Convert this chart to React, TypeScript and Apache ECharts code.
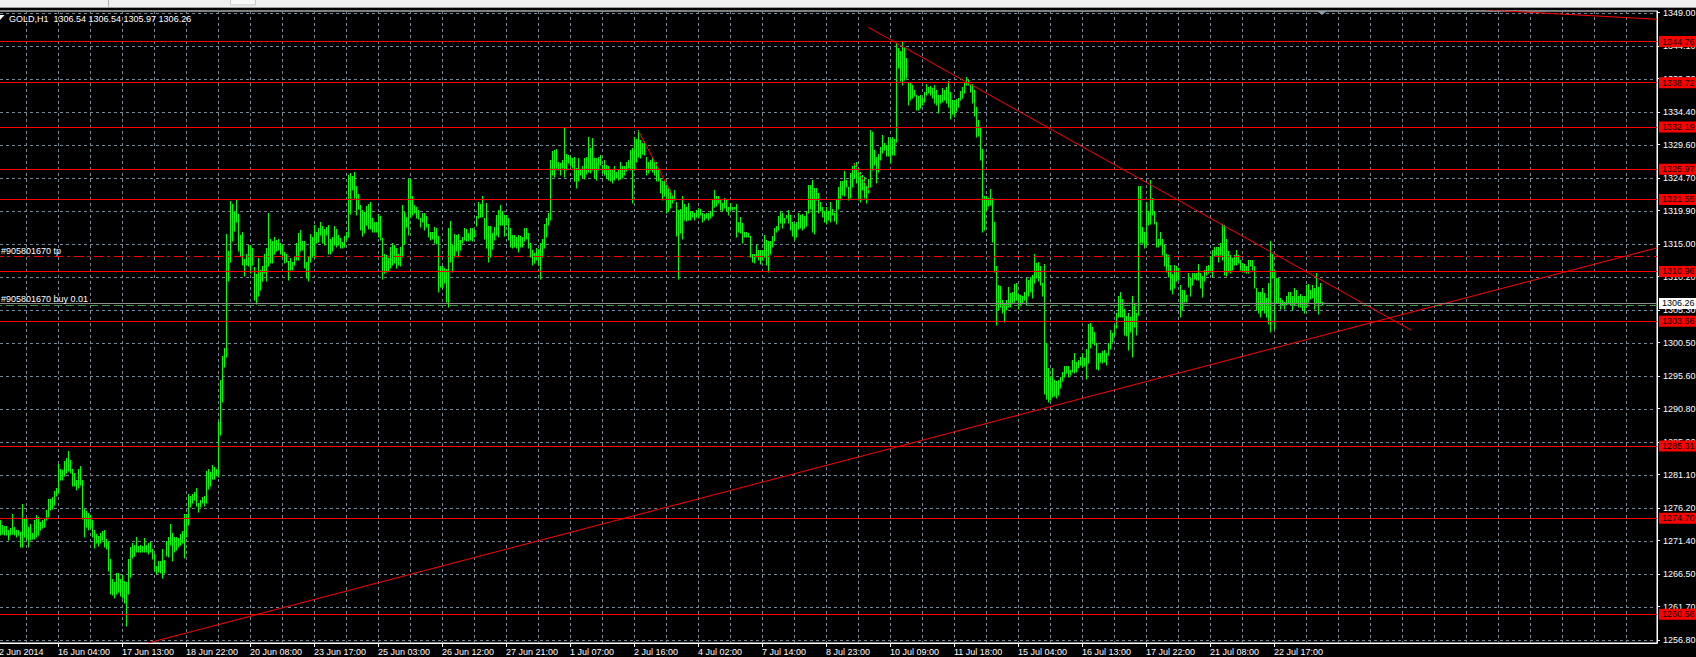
import { useEffect, useRef } from 'react';
import * as echarts from 'echarts';

// GOLD H1, one bar per hour, index 0 = first visible bar
const chartTitle = 'GOLD,H1  1306.54 1306.54 1305.97 1306.26';

const timeLabels = [
  '12 Jun 2014', '16 Jun 04:00', '17 Jun 13:00', '18 Jun 22:00', '20 Jun 08:00', '23 Jun 17:00',
  '25 Jun 03:00', '26 Jun 12:00', '27 Jun 21:00', '1 Jul 07:00', '2 Jul 16:00', '4 Jul 02:00',
  '7 Jul 14:00', '8 Jul 23:00', '10 Jul 09:00', '11 Jul 18:00', '15 Jul 04:00', '16 Jul 13:00',
  '17 Jul 22:00', '21 Jul 08:00', '22 Jul 17:00',
];

const priceTicks = [
  1256.8, 1261.7, 1266.5, 1271.4, 1276.2, 1281.1, 1285.9, 1290.8, 1295.6, 1300.5,
  1305.3, 1310.2, 1315.0, 1319.9, 1324.7, 1329.6, 1334.4, 1339.3, 1344.1, 1349.0,
];

const barHigh = [
  1274.4, 1273.7, 1273.5, 1273.5, 1272.9, 1273.2, 1275.3, 1273.4, 1272.9, 1272.9,
  1272.6, 1276.8, 1274.7, 1274.7, 1273.4, 1273.9, 1272.5, 1274.4, 1275.1, 1274.8,
  1274.2, 1274.4, 1274.6, 1275.9, 1277.5, 1277.5, 1277.8, 1278.7, 1279.2, 1282.6,
  1282.0, 1281.8, 1283.1, 1283.5, 1284.5, 1283.2, 1282.0, 1281.3, 1280.3, 1282.0,
  1282.3, 1280.3, 1276.0, 1275.7, 1275.4, 1275.1, 1274.4, 1273.0, 1272.4, 1272.1,
  1272.5, 1272.8, 1272.9, 1271.6, 1271.2, 1268.7, 1265.7, 1265.3, 1266.7, 1266.6,
  1265.8, 1266.4, 1265.4, 1265.3, 1268.7, 1270.5, 1271.0, 1270.8, 1272.0, 1270.6,
  1270.7, 1270.6, 1271.8, 1270.8, 1271.0, 1271.2, 1270.1, 1269.4, 1267.7, 1268.4,
  1268.4, 1270.1, 1268.5, 1271.4, 1272.0, 1273.9, 1272.5, 1271.9, 1271.9, 1271.8,
  1272.3, 1272.8, 1275.3, 1275.3, 1278.2, 1277.9, 1278.2, 1278.5, 1279.2, 1276.9,
  1277.3, 1277.8, 1278.0, 1281.6, 1281.9, 1281.5, 1282.5, 1282.2, 1281.9, 1288.8,
  1295.0, 1298.5, 1299.7, 1316.5, 1314.0, 1321.3, 1320.9, 1319.7, 1321.6, 1319.4,
  1316.3, 1316.7, 1312.8, 1313.6, 1314.9, 1314.9, 1314.4, 1311.6, 1310.6, 1312.9,
  1311.2, 1311.8, 1313.6, 1314.4, 1319.5, 1315.8, 1315.5, 1316.0, 1315.6, 1315.8,
  1315.1, 1314.9, 1313.8, 1313.6, 1312.5, 1312.9, 1312.4, 1313.1, 1315.1, 1316.6,
  1317.1, 1315.4, 1315.5, 1312.4, 1313.1, 1316.5, 1316.0, 1317.8, 1316.8, 1317.3,
  1318.3, 1317.6, 1317.2, 1317.5, 1317.8, 1315.8, 1316.0, 1317.6, 1317.2, 1316.3,
  1315.9, 1315.3, 1316.2, 1316.8, 1325.1, 1325.4, 1325.0, 1325.6, 1323.5, 1322.4,
  1320.8, 1320.0, 1319.7, 1320.6, 1320.9, 1321.2, 1318.8, 1318.3, 1318.3, 1319.4,
  1319.1, 1315.9, 1313.5, 1313.4, 1313.0, 1314.5, 1315.1, 1314.9, 1314.4, 1313.5,
  1314.5, 1320.7, 1319.7, 1319.0, 1324.5, 1324.5, 1322.1, 1320.7, 1320.4, 1320.0,
  1318.8, 1319.5, 1319.6, 1319.1, 1318.0, 1316.8, 1316.7, 1317.5, 1317.4, 1316.2,
  1311.8, 1311.7, 1311.4, 1311.3, 1317.3, 1318.4, 1314.9, 1316.5, 1316.3, 1316.5,
  1315.6, 1316.0, 1317.3, 1317.2, 1316.6, 1317.3, 1317.4, 1317.1, 1319.1, 1321.2,
  1320.9, 1322.1, 1318.8, 1321.0, 1317.6, 1317.6, 1316.6, 1317.5, 1319.2, 1320.0,
  1320.7, 1319.9, 1319.2, 1319.3, 1318.8, 1317.3, 1316.3, 1316.3, 1316.1, 1316.3,
  1316.2, 1316.1, 1317.3, 1317.4, 1316.6, 1315.2, 1314.1, 1313.7, 1314.4, 1314.2,
  1315.1, 1315.8, 1317.9, 1318.8, 1319.5, 1327.4, 1328.7, 1328.8, 1328.9, 1327.1,
  1326.9, 1327.3, 1332.1, 1328.3, 1328.1, 1327.8, 1327.6, 1327.8, 1326.1, 1327.6,
  1325.9, 1326.4, 1327.7, 1327.8, 1330.7, 1329.1, 1330.6, 1327.6, 1327.6, 1327.8,
  1328.1, 1326.6, 1327.4, 1326.6, 1326.4, 1325.9, 1325.9, 1326.4, 1325.6, 1325.9,
  1327.0, 1326.4, 1326.4, 1327.0, 1327.4, 1328.8, 1329.1, 1330.7, 1330.5, 1331.8,
  1330.3, 1329.8, 1330.1, 1327.8, 1327.1, 1327.4, 1327.8, 1327.1, 1327.0, 1326.1,
  1324.7, 1324.2, 1324.2, 1323.7, 1323.2, 1322.9, 1322.2, 1323.0, 1321.2, 1320.0,
  1320.1, 1322.1, 1320.9, 1320.4, 1321.0, 1319.8, 1319.8, 1319.6, 1320.0, 1320.3,
  1320.1, 1319.5, 1319.4, 1319.5, 1319.5, 1319.8, 1321.5, 1322.9, 1322.0, 1322.0,
  1321.5, 1321.0, 1321.7, 1321.5, 1320.5, 1321.1, 1320.4, 1320.4, 1320.9, 1318.3,
  1319.0, 1318.1, 1316.7, 1316.7, 1316.6, 1316.2, 1313.6, 1313.5, 1314.8, 1314.1,
  1314.1, 1314.1, 1316.3, 1315.6, 1315.5, 1315.4, 1316.2, 1317.4, 1317.6, 1319.1,
  1319.8, 1319.6, 1318.8, 1319.3, 1320.0, 1319.2, 1318.3, 1317.9, 1318.2, 1319.6,
  1319.3, 1319.4, 1319.1, 1319.8, 1323.7, 1323.7, 1324.4, 1323.2, 1323.2, 1322.5,
  1321.2, 1320.5, 1319.8, 1320.5, 1319.8, 1321.2, 1320.2, 1319.5, 1321.6, 1323.4,
  1324.2, 1324.2, 1325.8, 1324.4, 1323.4, 1325.5, 1326.4, 1326.9, 1327.1, 1326.1,
  1325.6, 1325.2, 1324.9, 1323.7, 1324.5, 1331.8, 1331.5, 1328.8, 1327.8, 1328.3,
  1329.3, 1331.0, 1329.8, 1329.6, 1330.8, 1330.5, 1330.8, 1330.4, 1344.5, 1343.8,
  1343.3, 1344.9, 1343.8, 1342.4, 1338.6, 1338.6, 1338.4, 1337.6, 1336.9, 1336.8,
  1336.9, 1336.4, 1337.4, 1338.5, 1338.1, 1338.2, 1337.9, 1338.4, 1337.6, 1336.9,
  1336.9, 1337.9, 1337.7, 1338.1, 1338.9, 1337.4, 1336.2, 1336.2, 1336.3, 1336.4,
  1337.5, 1338.1, 1338.7, 1339.5, 1339.1, 1338.4, 1338.5, 1337.6, 1335.2, 1333.2,
  1332.2, 1328.9, 1322.0, 1322.0, 1321.7, 1323.1, 1321.7, 1318.3, 1311.7, 1309.0,
  1308.8, 1306.7, 1306.3, 1306.7, 1308.7, 1307.8, 1308.0, 1309.1, 1309.3, 1307.7,
  1307.5, 1307.3, 1308.0, 1310.0, 1309.7, 1310.1, 1310.4, 1313.5, 1312.2, 1312.4,
  1311.8, 1309.3, 1312.1, 1300.4, 1296.7, 1295.5, 1296.7, 1295.0, 1294.8, 1295.0,
  1295.5, 1296.2, 1297.1, 1297.0, 1297.1, 1296.5, 1298.0, 1299.0, 1297.7, 1298.0,
  1298.4, 1299.0, 1298.2, 1299.5, 1303.3, 1303.4, 1302.8, 1302.1, 1300.4, 1299.0,
  1299.0, 1299.2, 1299.4, 1299.0, 1300.4, 1302.4, 1301.9, 1303.1, 1304.8, 1307.3,
  1308.0, 1306.9, 1305.4, 1304.4, 1304.9, 1304.3, 1307.3, 1306.2, 1304.8, 1323.5,
  1323.5, 1317.5, 1316.8, 1321.2, 1319.8, 1324.4, 1321.7, 1319.8, 1318.3, 1315.7,
  1316.8, 1315.8, 1314.9, 1313.6, 1313.4, 1311.9, 1310.6, 1311.9, 1311.7, 1311.4,
  1309.0, 1308.2, 1308.2, 1307.5, 1310.7, 1310.0, 1310.7, 1310.8, 1310.7, 1312.0,
  1310.8, 1310.3, 1311.2, 1311.8, 1311.9, 1313.2, 1314.1, 1314.5, 1314.5, 1314.6,
  1315.1, 1318.0, 1317.8, 1315.7, 1314.0, 1313.4, 1312.9, 1313.4, 1314.1, 1313.4,
  1312.7, 1312.2, 1312.0, 1311.8, 1312.7, 1312.6, 1312.7, 1311.7, 1308.6, 1308.0,
  1308.0, 1308.5, 1307.8, 1307.0, 1309.2, 1315.5, 1313.6, 1311.2, 1310.0, 1310.0,
  1307.0, 1306.8, 1306.5, 1307.3, 1308.0, 1307.9, 1307.3, 1308.6, 1308.2, 1307.3,
  1307.6, 1307.3, 1307.3, 1309.0, 1309.1, 1308.2, 1309.0, 1308.5, 1310.7, 1308.7,
  1309.2, 1306.54,
];

const barLow = [
  1272.2, 1272.4, 1272.2, 1272.2, 1271.5, 1272.2, 1272.4, 1272.2, 1272.0, 1272.2,
  1270.4, 1270.5, 1271.9, 1271.5, 1270.5, 1271.5, 1271.7, 1271.7, 1272.0, 1272.2,
  1272.9, 1273.2, 1273.4, 1274.4, 1274.9, 1275.9, 1276.1, 1276.6, 1277.9, 1278.4,
  1280.3, 1280.3, 1280.9, 1281.3, 1281.7, 1281.3, 1279.4, 1279.4, 1278.8, 1279.1,
  1279.6, 1274.6, 1272.0, 1273.4, 1272.9, 1273.2, 1272.0, 1270.3, 1271.0, 1270.6,
  1271.1, 1271.5, 1270.5, 1270.2, 1266.9, 1263.6, 1263.4, 1263.0, 1263.6, 1263.8,
  1263.2, 1263.0, 1262.2, 1258.9, 1263.5, 1266.1, 1268.9, 1269.2, 1269.7, 1269.7,
  1269.7, 1269.7, 1269.7, 1269.7, 1269.4, 1269.7, 1268.7, 1266.9, 1266.5, 1266.8,
  1266.7, 1265.9, 1266.6, 1269.2, 1269.0, 1270.7, 1268.4, 1269.7, 1270.0, 1270.5,
  1270.7, 1271.0, 1268.9, 1272.0, 1273.7, 1276.4, 1277.0, 1277.3, 1276.5, 1275.6,
  1276.4, 1276.9, 1276.5, 1277.0, 1279.0, 1279.5, 1280.5, 1280.5, 1281.0, 1280.8,
  1286.9, 1291.8, 1296.9, 1298.4, 1309.5, 1312.4, 1315.5, 1316.9, 1318.3, 1314.0,
  1313.2, 1311.9, 1310.3, 1311.9, 1311.7, 1310.7, 1311.9, 1306.8, 1306.2, 1307.3,
  1308.2, 1309.5, 1310.7, 1309.6, 1311.7, 1312.2, 1312.2, 1313.6, 1313.9, 1314.1,
  1313.6, 1313.1, 1312.2, 1312.4, 1309.7, 1311.2, 1311.2, 1311.9, 1312.6, 1312.6,
  1313.9, 1314.1, 1311.4, 1310.0, 1309.6, 1312.4, 1313.1, 1312.9, 1315.1, 1315.3,
  1316.3, 1315.1, 1314.9, 1316.3, 1313.6, 1313.6, 1313.9, 1314.9, 1314.6, 1314.9,
  1314.4, 1314.4, 1314.5, 1315.6, 1316.0, 1319.4, 1322.9, 1321.7, 1319.3, 1320.2,
  1317.1, 1316.2, 1316.6, 1317.8, 1317.2, 1317.2, 1316.8, 1316.7, 1316.8, 1316.1,
  1315.6, 1309.9, 1310.7, 1310.9, 1311.1, 1311.4, 1311.9, 1312.2, 1311.4, 1311.9,
  1311.7, 1313.1, 1315.0, 1317.5, 1316.3, 1319.0, 1319.3, 1319.6, 1318.8, 1318.7,
  1317.5, 1318.3, 1317.1, 1317.5, 1316.0, 1315.6, 1315.8, 1315.1, 1315.0, 1308.0,
  1308.7, 1308.5, 1309.2, 1306.5, 1305.8, 1312.4, 1310.9, 1313.1, 1313.9, 1313.1,
  1314.1, 1315.1, 1315.6, 1315.4, 1315.5, 1315.6, 1315.4, 1316.1, 1317.6, 1318.8,
  1318.9, 1318.9, 1315.8, 1314.4, 1312.4, 1313.1, 1314.2, 1315.6, 1316.3, 1316.1,
  1317.8, 1317.8, 1316.2, 1317.8, 1315.6, 1314.6, 1314.4, 1314.6, 1314.4, 1313.8,
  1314.6, 1314.6, 1315.4, 1315.8, 1314.4, 1313.1, 1311.9, 1312.2, 1312.7, 1311.9,
  1309.9, 1313.1, 1314.4, 1316.1, 1317.8, 1318.5, 1325.2, 1324.9, 1326.1, 1325.9,
  1325.2, 1326.1, 1324.8, 1325.9, 1326.9, 1326.4, 1326.1, 1324.2, 1323.3, 1324.2,
  1325.2, 1324.7, 1324.5, 1325.3, 1325.6, 1325.4, 1325.9, 1324.7, 1324.4, 1325.9,
  1326.6, 1325.4, 1325.2, 1324.7, 1324.4, 1324.2, 1324.0, 1324.4, 1324.7, 1324.4,
  1324.5, 1324.7, 1325.2, 1325.8, 1326.1, 1325.9, 1321.1, 1325.9, 1327.1, 1327.8,
  1327.6, 1328.3, 1328.1, 1325.2, 1325.4, 1325.9, 1325.6, 1325.2, 1324.2, 1324.2,
  1322.5, 1321.5, 1322.0, 1319.6, 1319.8, 1320.3, 1321.0, 1321.5, 1316.2, 1309.9,
  1316.6, 1315.7, 1318.6, 1318.4, 1318.6, 1318.6, 1318.9, 1318.6, 1319.0, 1318.8,
  1319.3, 1318.3, 1318.5, 1318.8, 1318.6, 1318.8, 1319.1, 1320.4, 1320.6, 1321.0,
  1320.0, 1319.8, 1320.3, 1319.9, 1319.3, 1320.0, 1320.0, 1320.2, 1316.0, 1316.8,
  1316.6, 1315.2, 1316.0, 1316.0, 1316.1, 1313.1, 1312.4, 1312.2, 1313.1, 1312.7,
  1312.1, 1312.7, 1313.1, 1311.9, 1310.9, 1313.6, 1314.6, 1315.4, 1316.8, 1317.1,
  1318.1, 1317.3, 1318.1, 1318.8, 1318.1, 1317.0, 1316.2, 1315.6, 1316.0, 1317.2,
  1317.4, 1317.0, 1317.3, 1317.6, 1319.5, 1320.2, 1316.8, 1316.5, 1321.5, 1319.5,
  1319.8, 1319.0, 1318.3, 1318.0, 1318.6, 1318.2, 1319.3, 1318.4, 1318.0, 1320.2,
  1321.5, 1322.2, 1322.1, 1323.4, 1321.5, 1321.7, 1323.4, 1324.7, 1323.9, 1321.5,
  1321.2, 1322.9, 1321.7, 1321.1, 1322.5, 1323.4, 1325.9, 1326.6, 1323.9, 1325.6,
  1327.4, 1328.4, 1328.8, 1327.9, 1327.9, 1326.9, 1328.1, 1328.1, 1330.0, 1340.8,
  1338.9, 1338.4, 1339.1, 1339.4, 1335.5, 1336.2, 1336.4, 1336.7, 1334.7, 1334.7,
  1335.0, 1335.5, 1335.9, 1336.9, 1337.2, 1336.9, 1336.4, 1335.7, 1335.5, 1334.3,
  1335.7, 1335.9, 1336.2, 1335.7, 1335.2, 1333.4, 1334.1, 1333.7, 1334.5, 1335.2,
  1336.2, 1336.4, 1337.2, 1338.4, 1338.4, 1337.3, 1335.8, 1333.8, 1330.8, 1330.9,
  1327.4, 1316.7, 1317.1, 1320.0, 1320.6, 1320.7, 1315.3, 1310.9, 1303.1, 1305.3,
  1305.8, 1304.9, 1303.6, 1305.3, 1305.8, 1305.8, 1306.3, 1306.5, 1306.8, 1305.5,
  1306.0, 1306.3, 1306.8, 1306.0, 1307.3, 1308.0, 1307.0, 1309.3, 1310.0, 1309.5,
  1309.0, 1307.3, 1293.0, 1292.2, 1291.8, 1292.0, 1292.5, 1292.6, 1292.3, 1292.8,
  1293.8, 1294.8, 1295.5, 1296.0, 1295.4, 1295.7, 1296.2, 1296.0, 1296.2, 1296.7,
  1297.2, 1296.9, 1297.0, 1295.1, 1297.5, 1299.7, 1300.4, 1300.2, 1296.6, 1296.5,
  1297.7, 1297.5, 1297.6, 1297.2, 1298.7, 1299.5, 1300.6, 1301.6, 1302.6, 1304.2,
  1304.2, 1304.3, 1301.6, 1301.5, 1299.4, 1302.1, 1298.4, 1302.8, 1301.6, 1304.6,
  1315.2, 1315.2, 1314.4, 1314.9, 1317.8, 1318.0, 1319.3, 1318.0, 1314.6, 1314.6,
  1314.9, 1313.4, 1311.7, 1310.9, 1310.2, 1308.2, 1307.7, 1308.5, 1309.5, 1309.7,
  1304.3, 1305.3, 1306.5, 1306.5, 1308.7, 1307.4, 1309.0, 1309.8, 1309.7, 1309.7,
  1308.5, 1307.2, 1309.5, 1310.4, 1310.7, 1310.9, 1310.2, 1313.2, 1313.4, 1312.3,
  1313.4, 1312.7, 1310.4, 1310.3, 1310.9, 1310.7, 1311.2, 1311.9, 1311.9, 1312.2,
  1311.2, 1310.9, 1310.9, 1310.7, 1310.7, 1311.7, 1311.2, 1308.5, 1305.3, 1304.8,
  1304.3, 1305.3, 1304.8, 1304.3, 1303.3, 1302.0, 1310.0, 1302.5, 1306.3, 1306.3,
  1305.5, 1306.0, 1305.5, 1306.0, 1306.3, 1306.0, 1305.3, 1306.0, 1306.3, 1305.8,
  1305.8, 1305.3, 1304.8, 1305.8, 1306.5, 1306.9, 1307.0, 1305.5, 1306.3, 1304.7,
  1306.3, 1305.97,
];

const levelPrices = [1344.76, 1338.72, 1332.19, 1325.97, 1321.55, 1310.96, 1303.66, 1285.31, 1274.7, 1260.58];
const bidPrice = 1306.26;
const buyPrice = 1305.95;
const tpPrice = 1313.18;
const orderLabels = ['#905801670 tp', '#905801670 buy 0.01'];

// [bar index, price] end points
const trendLines = [
  [[74, 1256.35], [828.5, 1314.44]],
  [[434.15, 1346.85], [705.5, 1302.34]],
  [[319.2, 1331.65], [336.7, 1321.94]],
  [[427, 1326.85], [434.7, 1322.83]],
  [[700, 1350.1], [828.5, 1348.03]],
];

const FONT = '"Liberation Sans", Arial, sans-serif';
const X_MIN = -3;
const X_MAX = 828.5;
const Y_MIN = 1256.35;
const Y_MAX = 1349.25;

export default function App() {
  const chartRef = useRef<HTMLDivElement>(null);

  useEffect(() => {
    if (!chartRef.current) return;
    const chart = echarts.init(chartRef.current, null, { renderer: 'svg' });

    const labelBars = timeLabels.map((_, k) => X_MIN + 32 * k);
    const gridBars: number[] = [];
    for (let b = 13; b < X_MAX; b += 16) gridBars.push(b);

    const bars = barHigh.map((h, i) => [i, barLow[i], h]);

    const dashedLine = (color: string) => ({ stroke: color, lineWidth: 1, lineDash: [3, 3] });

    const option: any = {
      animation: false,
      backgroundColor: '#000000',
      textStyle: { fontFamily: FONT, fontSize: 9 },
      grid: {
        left: -6,
        right: 39,
        top: 11,
        bottom: 14,
        outerBoundsMode: 'none',
        containLabel: false,
        show: true,
        backgroundColor: '#000000',
        borderColor: '#ffffff',
        borderWidth: 1,
      },
      xAxis: {
        type: 'value',
        min: X_MIN,
        max: X_MAX,
        axisLine: { show: true, onZero: false, lineStyle: { color: '#ffffff' } },
        axisTick: { show: true, customValues: labelBars, length: 4, lineStyle: { color: '#ffffff' } },
        axisLabel: {
          customValues: labelBars,
          formatter: (v: number) => timeLabels[Math.round((v - X_MIN) / 32)] ?? '',
          color: '#ffffff',
          fontFamily: FONT,
          fontSize: 9,
          align: 'left',
          margin: 4,
        },
        splitLine: { show: false },
      },
      yAxis: {
        type: 'value',
        position: 'right',
        min: Y_MIN,
        max: Y_MAX,
        axisLine: { show: true, onZero: false, lineStyle: { color: '#ffffff' } },
        axisTick: { show: true, customValues: priceTicks, length: 3, lineStyle: { color: '#ffffff' } },
        axisLabel: {
          customValues: priceTicks,
          formatter: (v: number) => v.toFixed(2),
          color: '#ffffff',
          fontFamily: FONT,
          fontSize: 9,
          margin: 6,
        },
        splitLine: { show: false },
      },
      graphic: [
        { type: 'rect', shape: { x: 0, y: 0, width: 1696, height: 7 }, style: { fill: '#f0f0f0' }, z: 100 },
        { type: 'line', shape: { x1: 0, y1: 7.5, x2: 1696, y2: 7.5 }, style: { stroke: '#a0a0a0', lineWidth: 1 }, z: 100 },
        { type: 'line', shape: { x1: 108.5, y1: 0, x2: 108.5, y2: 7 }, style: { stroke: '#b0b0b0', lineWidth: 1 }, z: 101 },
        { type: 'rect', shape: { x: 230.5, y: -1, width: 25, height: 6 }, style: { fill: '#f8f8f8', stroke: '#c8c8c8', lineWidth: 1 }, z: 101 },
        { type: 'polygon', shape: { points: [[0, 15], [4.5, 15], [0, 20]] }, style: { fill: '#ffffff' }, z: 100 },
        {
          type: 'text', x: 9, y: 18.5, z: 100,
          style: { text: chartTitle, fill: '#ffffff', font: `9px ${FONT}`, textVerticalAlign: 'middle' },
        },
        {
          type: 'text', x: 1, y: 250.5, z: 100,
          style: { text: orderLabels[0], fill: '#ffffff', font: `9px ${FONT}`, textVerticalAlign: 'middle' },
        },
        {
          type: 'text', x: 1, y: 299, z: 100,
          style: { text: orderLabels[1], fill: '#ffffff', font: `9px ${FONT}`, textVerticalAlign: 'middle' },
        },
        { type: 'polygon', shape: { points: [[1317, 11], [1327, 11], [1322, 15]] }, style: { fill: '#8c9cb0' }, z: 100 },
      ],
      series: [
        {
          type: 'custom',
          name: 'vgrid',
          silent: true,
          z: 1,
          data: gridBars.map((b) => [b, 1300]),
          renderItem: (params: any, api: any) => {
            const cs = params.coordSys;
            const x = Math.round(api.coord([api.value(0), 1300])[0]) + 0.5;
            return {
              type: 'line',
              shape: { x1: x, y1: cs.y, x2: x, y2: cs.y + cs.height },
              style: dashedLine('#778899'),
            };
          },
        },
        {
          type: 'custom',
          name: 'hgrid',
          silent: true,
          z: 1,
          data: priceTicks.map((p) => [0, p]),
          renderItem: (params: any, api: any) => {
            const cs = params.coordSys;
            const y = Math.round(api.coord([0, api.value(1)])[1]) + 0.5;
            return {
              type: 'line',
              shape: { x1: cs.x, y1: y, x2: cs.x + cs.width, y2: y },
              style: dashedLine('#778899'),
            };
          },
        },
        {
          type: 'custom',
          name: 'GOLD',
          silent: true,
          z: 3,
          encode: { x: 0, y: [1, 2] },
          data: bars,
          renderItem: (_params: any, api: any) => {
            const lo = api.coord([api.value(0), api.value(1)]);
            const hi = api.coord([api.value(0), api.value(2)]);
            const x = Math.round(lo[0]) + 0.5;
            return {
              type: 'line',
              shape: { x1: x, y1: Math.round(lo[1]) + 0.5, x2: x, y2: Math.round(hi[1]) },
              style: { stroke: '#00ff00', lineWidth: 1 },
            };
          },
        },
        ...trendLines.map((pts) => ({
          type: 'line',
          silent: true,
          z: 4,
          clip: true,
          symbol: 'none',
          data: pts,
          lineStyle: { color: '#ff0000', width: 1 },
        })),
        {
          type: 'line',
          name: 'levels',
          silent: true,
          z: 5,
          data: [],
          markLine: {
            silent: true,
            animation: false,
            symbol: ['none', 'none'],
            data: [
              {
                yAxis: tpPrice,
                lineStyle: { color: '#ff0000', width: 1, type: [9, 4, 3, 4] },
                label: { show: false },
              },
              {
                yAxis: bidPrice,
                lineStyle: { color: '#8c8c8c', width: 1, type: 'solid' },
                label: {
                  show: true,
                  position: 'end',
                  formatter: bidPrice.toFixed(2),
                  color: '#000000',
                  backgroundColor: '#ffffff',
                  fontFamily: FONT,
                  fontSize: 9,
                  lineHeight: 9,
                  padding: [1, 6, 1, 3],
                  distance: 2,
                },
              },
              {
                yAxis: buyPrice,
                lineStyle: { color: '#3c9c3c', width: 1, type: [8, 4] },
                label: { show: false },
              },
              ...levelPrices.map((p) => ({
                yAxis: p,
                lineStyle: { color: '#ff0000', width: 1, type: 'solid' },
                label: {
                  show: true,
                  position: 'end',
                  formatter: p.toFixed(2),
                  color: '#000000',
                  backgroundColor: '#ff0000',
                  fontFamily: FONT,
                  fontSize: 9,
                  lineHeight: 9,
                  padding: [1, 6, 1, 3],
                  distance: 2,
                },
              })),
            ],
          },
        },
      ],
    };

    chart.setOption(option);

    return () => {
      chart.dispose();
    };
  }, []);

  return (
    <div
      ref={chartRef}
      style={{ position: 'fixed', left: 0, top: 0, width: 1696, height: 657, background: '#000000' }}
    />
  );
}
